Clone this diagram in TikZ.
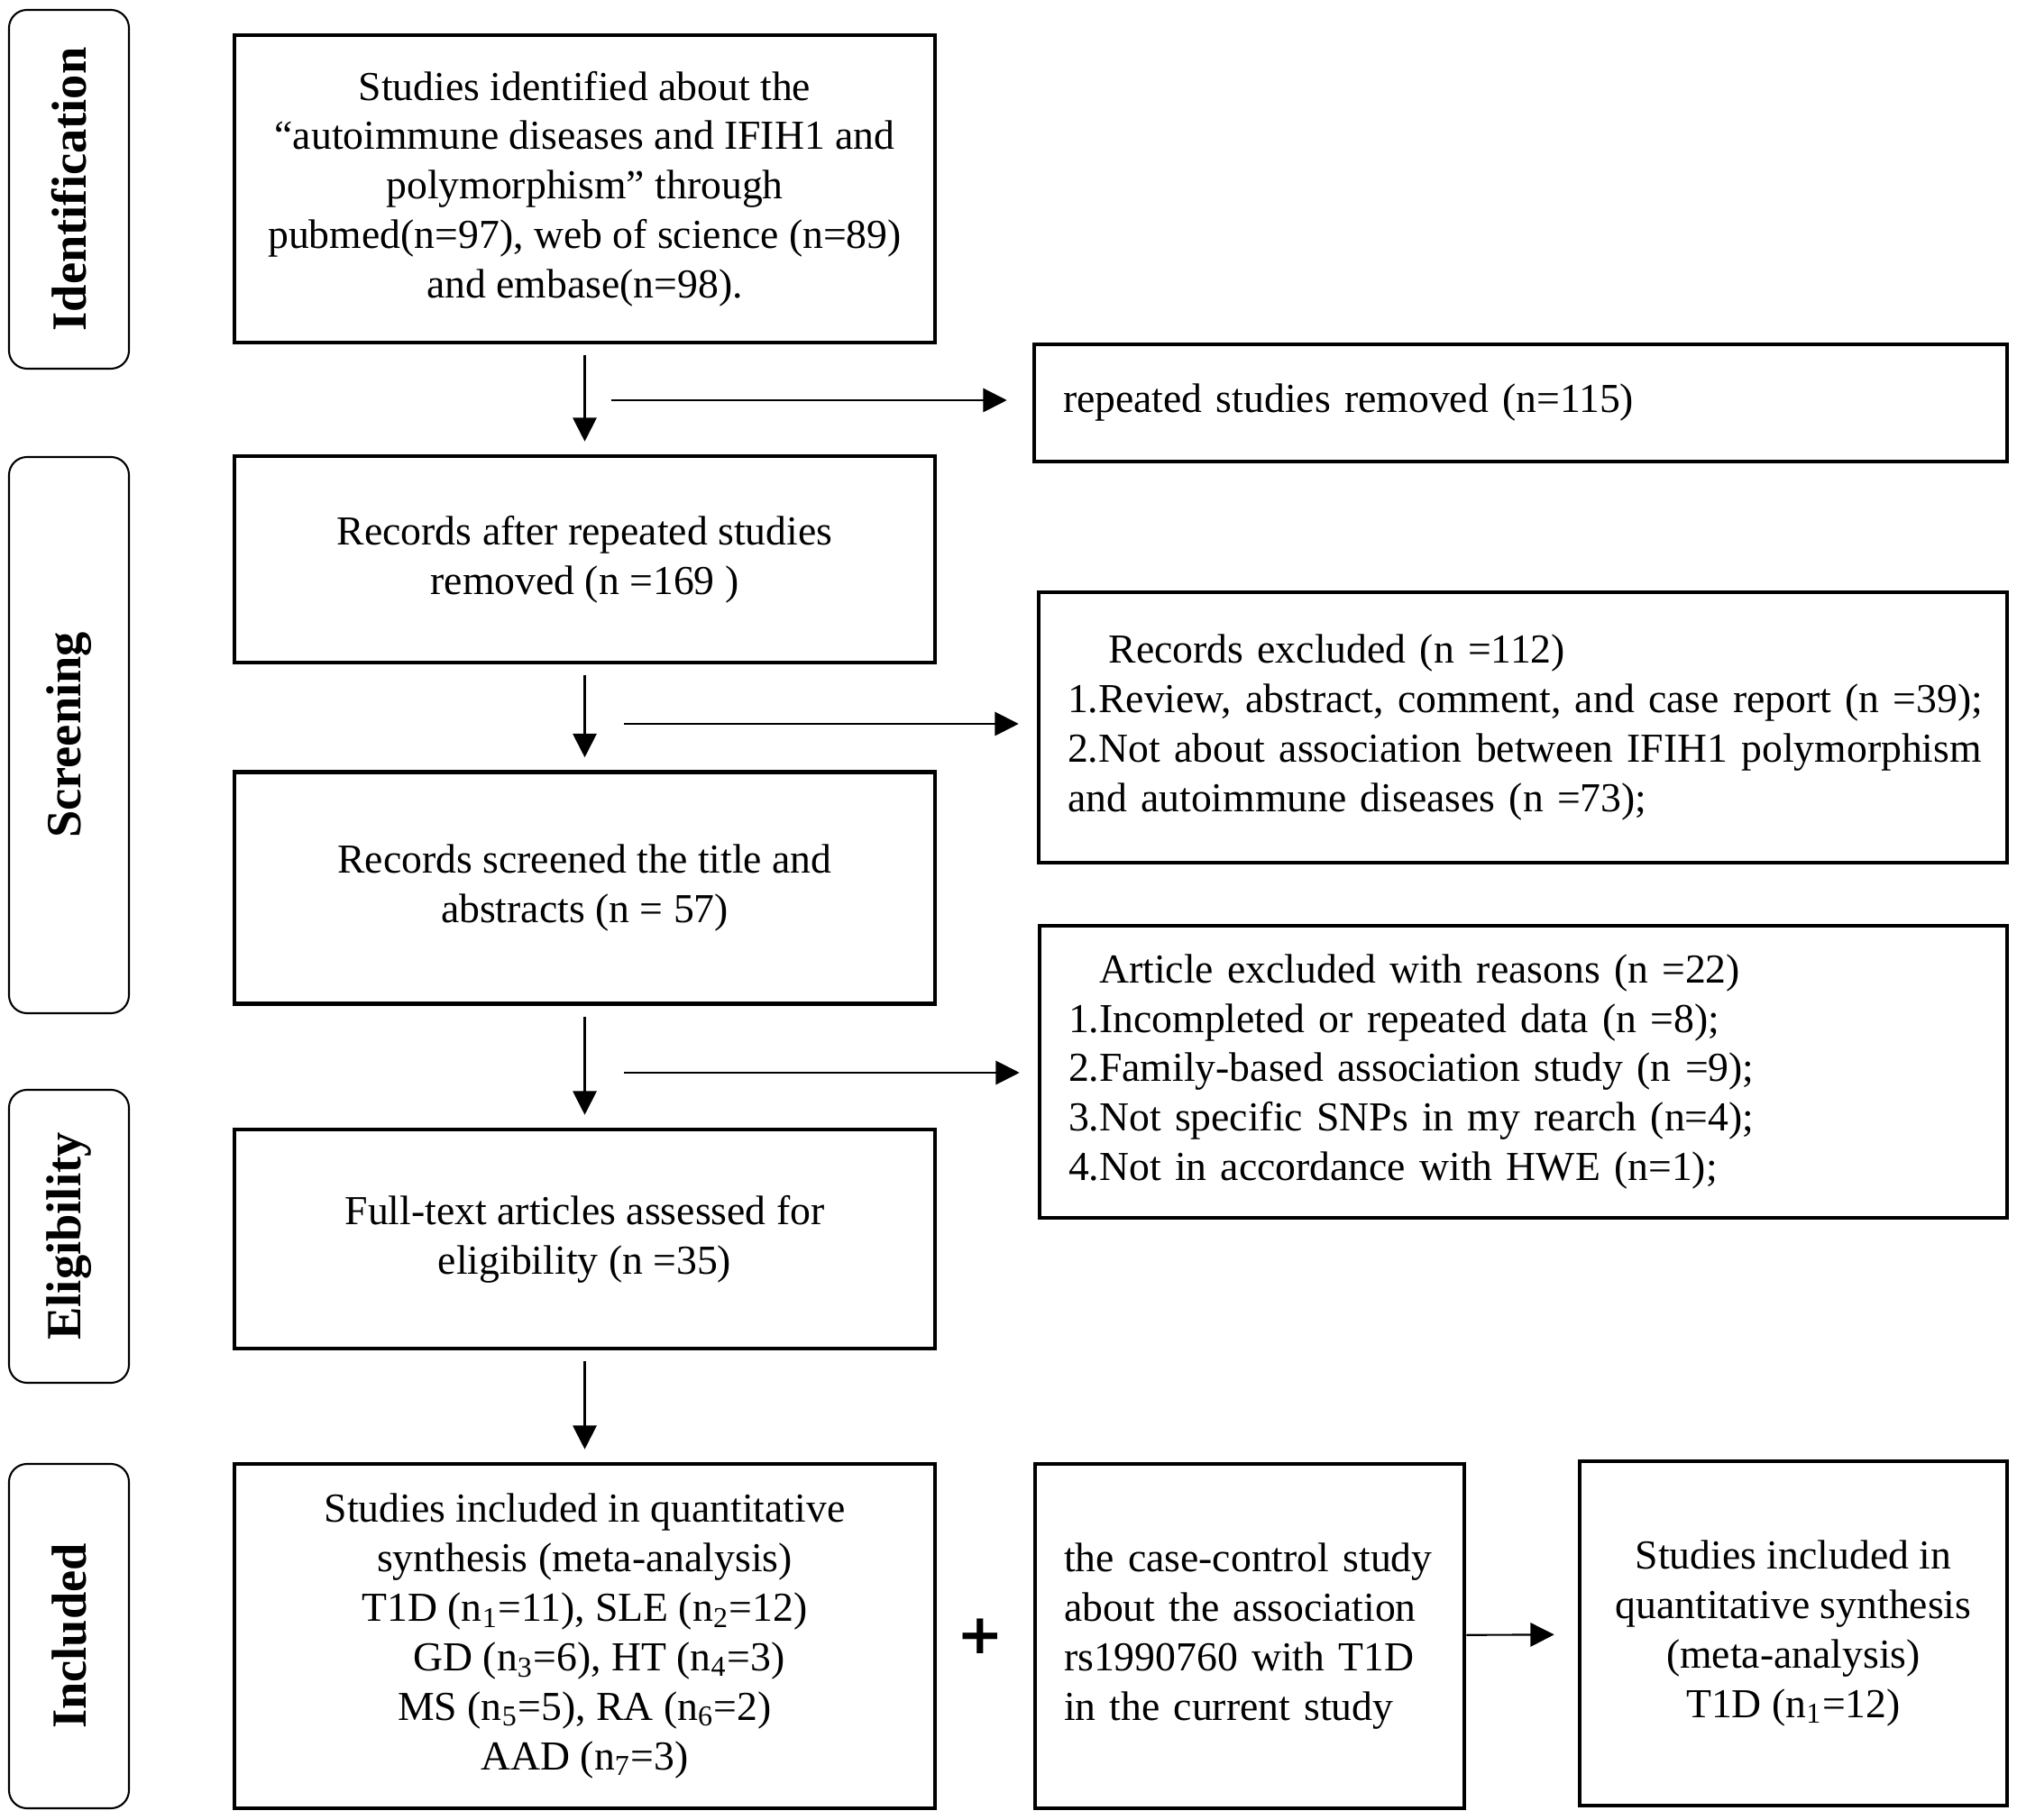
\documentclass[tikz,border=0pt]{standalone}
\usepackage{fontspec}
\setmainfont{Liberation Serif}
\newfontfamily\plusfont{DejaVu Sans}
\usetikzlibrary{positioning,arrows.meta}

\begin{document}
\begin{tikzpicture}[stage/.style = {draw, line width=0.6pt, rounded corners=0.2cm, rotate=90, minimum height=1.33cm, font=\fontsize{15.5}{18}\selectfont\bfseries},
	box/.style = {draw, line width=1.3pt, minimum width=7.77cm, align=center, font=\fontsize{13}{15.6}\selectfont},
	note/.style = {draw, line width=1.3pt, align=left, inner xsep=0.32cm, font=\fontsize{13}{15.6}\selectfont},
	arr/.style = {line width=0.6pt, -{Triangle[length=7.5pt, width=7.5pt]}}]
		\useasboundingbox (0,0) rectangle (22.37,-20.19);
		% stages
		\node[stage, minimum width=3.98cm] (s1) at (0.765,-2.10) {Identification};
		\node[stage, minimum width=6.17cm] (s2) at (0.765,-8.155) {Screening};
		\node[stage, minimum width=3.25cm] (s3) at (0.765,-13.715) {Eligibility};
		\node[stage, minimum width=3.82cm] (s4) at (0.765,-18.15) {Included};
		% main column
		\node[box, minimum height=3.41cm] (b1) at (6.485,-2.095) {Studies identified about the\\“autoimmune diseases and IFIH1 and\\polymorphism” through\\pubmed(n=97), web of science (n=89)\\and embase(n=98).};
		\node[box, minimum height=2.29cm] (b2) at (6.485,-6.205) {Records after repeated studies\\removed (n =169 )};
		\node[box, minimum height=2.57cm] (b3) at (6.485,-9.85) {Records screened the title and\\abstracts (n = 57)};
		\node[box, minimum height=2.43cm] (b4) at (6.485,-13.745) {Full-text articles assessed for\\eligibility (n =35)};
		\node[box, minimum height=3.82cm] (b5) at (6.485,-18.15) {Studies included in quantitative\\synthesis (meta-analysis)\\T1D (n\textsubscript{1}=11), SLE (n\textsubscript{2}=12)\\\hspace*{9pt}GD (n\textsubscript{3}=6), HT (n\textsubscript{4}=3)\\MS (n\textsubscript{5}=5), RA (n\textsubscript{6}=2)\\AAD (n\textsubscript{7}=3)};
		% excluded
		\node[note, text width=10.15cm, minimum height=1.30cm] (r1) at (16.865,-4.47) {repeated studies removed (n=115)};
		\node[note, text width=10.10cm, minimum height=3.0cm] (r2) at (16.89,-8.07) {\hspace*{13pt}Records excluded (n =112)\\\mbox{1.Review, abstract, comment, and case report (n =39);}\\\mbox{2.Not about association between IFIH1 polymorphism}\\and autoimmune diseases (n =73);};
		\node[note, text width=10.09cm, minimum height=3.24cm] (r3) at (16.895,-11.89) {\hspace*{9.7pt}Article excluded with reasons (n =22)\\1.Incompleted or repeated data (n =8);\\2.Family-based association study (n =9);\\3.Not specific SNPs in my rearch (n=4);\\4.Not in accordance with HWE (n=1);};
		% bottom row
		\node[font=\plusfont\fontsize{17.5}{17.5}\selectfont\bfseries] (plus) at (10.87,-18.15) {+};
		\node[note, text width=4.12cm, minimum height=3.82cm] (m) at (13.86,-18.15) {the case-control study\\about the association\\rs1990760 with T1D\\in the current study};
		\node[box, minimum width=4.74cm, minimum height=3.82cm] (f) at (19.89,-18.12) {Studies included in\\quantitative synthesis\\(meta-analysis)\\T1D (n\textsubscript{1}=12)};
		\coordinate (h1) at (6.78,-4.44);
		\coordinate (h2) at (6.92,-8.03);
		\coordinate (h3) at (6.92,-11.90);
		\draw[arr, shorten <=0.12cm, shorten >=0.14cm] (b1) -- (b2);
		\draw[arr, shorten <=0.12cm, shorten >=0.14cm] (b2) -- (b3);
		\draw[arr, shorten <=0.12cm, shorten >=0.14cm] (b3) -- (b4);
		\draw[arr, shorten <=0.12cm, shorten >=0.14cm] (b4) -- (b5);
		\draw[arr, shorten >=0.28cm] (h1) -- (h1 -| r1.west);
		\draw[arr, shorten >=0.2cm] (h2) -- (h2 -| r2.west);
		\draw[arr, shorten >=0.2cm] (h3) -- (h3 -| r3.west);
		\draw[arr, shorten >=0.26cm] (m) -- (f);
	\end{tikzpicture}
\end{document}
